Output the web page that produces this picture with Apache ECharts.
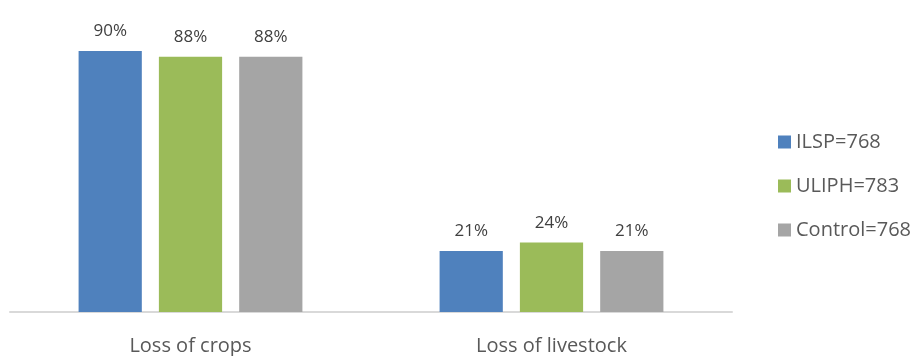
<!DOCTYPE html>
<html>
<head>
<meta charset="utf-8">
<script src="https://cdn.jsdelivr.net/npm/echarts@6/dist/echarts.min.js"></script>
<style>
html, body { margin: 0; padding: 0; background: #fff; }
#main { width: 914px; height: 356px; }
</style>
</head>
<body>
<div id="main"></div>
<script>
var categories = ['Loss of crops', 'Loss of livestock'];
var seriesNames = ['ILSP=768', 'ULIPH=783', 'Control=768'];
var ilsp = [90, 21];
var uliph = [88, 24];
var control = [88, 21];
var colors = ['#4f81bd', '#9bbb59', '#a5a5a5'];

var chart = echarts.init(document.getElementById('main'));

var font = '"Open Sans", "Noto Sans", sans-serif';

function makeSeries(name, values, color) {
	return {
		name: name,
		type: 'bar',
		data: values,
		barGap: '27%',
		barCategoryGap: '38%',
		itemStyle: { color: color },
		label: {
			show: true,
			position: 'top',
			distance: 11,
			formatter: '{c}%',
			color: '#404040',
			fontSize: 17,
			fontFamily: font
		}
	};
}

var option = {
	animation: false,
	grid: { left: 10, right: 182, top: 22, bottom: 39, containLabel: false },
	legend: {
		orient: 'vertical',
		left: 773,
		top: 127,
		itemWidth: 13,
		itemHeight: 13,
		itemGap: 24,
		icon: 'rect',
		textStyle: { color: '#595959', fontSize: 20, fontFamily: font },
		data: seriesNames
	},
	xAxis: {
		type: 'category',
		data: categories,
		axisLine: { lineStyle: { color: '#d9d9d9', width: 2 } },
		axisTick: { show: false },
		axisLabel: { color: '#595959', fontSize: 20, fontFamily: font, margin: 24 }
	},
	yAxis: {
		type: 'value',
		min: 0,
		max: 100,
		show: false,
		splitLine: { show: false }
	},
	series: [
		makeSeries(seriesNames[0], ilsp, colors[0]),
		makeSeries(seriesNames[1], uliph, colors[1]),
		makeSeries(seriesNames[2], control, colors[2])
	]
};

chart.setOption(option);
</script>
</body>
</html>
